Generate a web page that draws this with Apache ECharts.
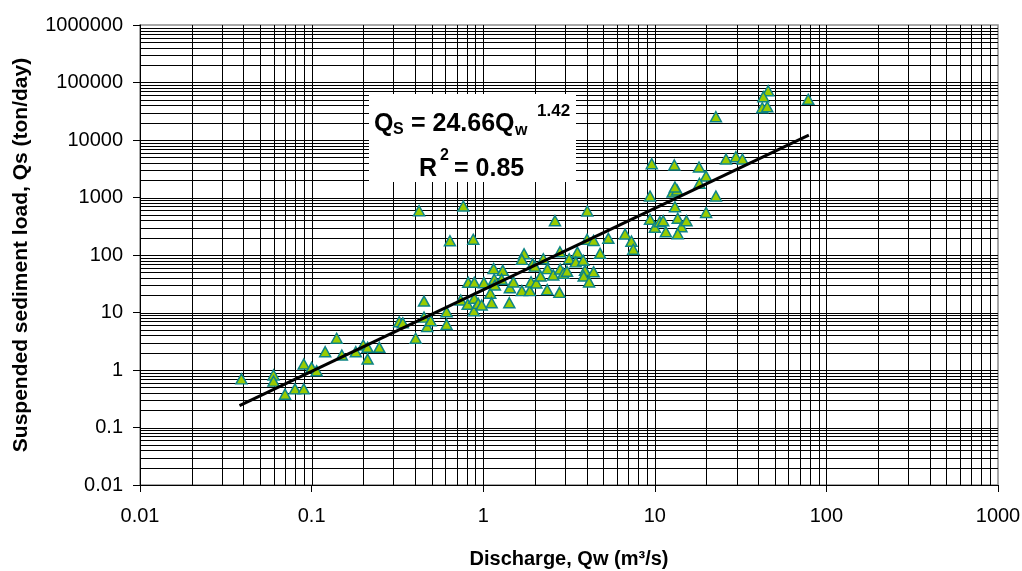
<!DOCTYPE html>
<html><head><meta charset="utf-8">
<script src="https://cdn.jsdelivr.net/npm/echarts@6/dist/echarts.min.js"></script>
<style>html,body{margin:0;padding:0;background:#fff}#c{width:1022px;height:571px}</style>
</head><body><div id="c"></div>
<script>
// ---- data ----
const discharge = [0.039,0.060,0.060,0.070,0.080,0.090,0.090,0.100,0.107,0.120,0.140,0.150,0.181,0.200,0.212,0.212,0.248,0.324,0.340,0.404,0.452,0.452,0.472,0.494,0.612,0.612,0.740,0.818,0.887,0.812,0.887,0.883,0.935,0.423,0.766,0.640,0.875,1.01,1.10,1.12,0.98,1.15,1.30,1.16,1.28,1.17,1.43,1.42,1.50,1.68,1.87,1.90,2.04,2.36,2.78,1.73,1.68,1.94,2.00,2.24,2.16,2.37,2.56,2.80,2.81,2.93,3.08,3.17,3.54,3.46,3.83,3.92,3.85,4.14,4.40,4.03,4.40,4.80,5.36,6.71,2.62,4.04,7.31,7.49,9.38,10.0,10.7,11.2,11.6,13.6,14.3,15.3,13.6,9.38,13.1,12.7,13.5,13.1,9.6,13.0,18.1,19.9,18.2,22.7,19.9,26.0,29.7,32.4,22.7,45.8,42.9,42.3,45.2,78.4];
const sediment = [0.70,0.82,0.64,0.38,0.47,0.47,1.27,1.11,0.97,2.08,3.56,1.82,2.08,2.72,2.48,1.55,2.48,6.9,6.6,3.56,15.8,8.3,5.7,7.2,10.3,6.2,16.5,33.5,33.5,13.9,17.7,10.7,14.4,589,711,177,188,33,21.6,14.8,13.5,58,54,38,38,30,27,14.8,34,24,24,34,32.6,25,22.4,105,84,70,64,86,43,58,45,114,57,48,52,86,112,76,81,54,43,34,51,188,179,107,195,232,395,582,174,126,418,303,380,395,254,435,310,395,234,1060,690,1250,1350,1520,3870,3680,3390,2370,1770,1060,548,4670,5120,4670,25400,72000,56600,36400,37900,51000];
const trendDischarge = [0.038, 79];
const trendSediment = [0.24, 12200];
const xTickLabels = ['0.01','0.1','1','10','100','1000'];
const yTickLabels = ['0.01','0.1','1','10','100','1000','10000','100000','1000000'];
const gridMultipliers = [1,2,3,4,5,6,7,8,9];

// ---- build ----
const points = discharge.map((d, i) => [d, sediment[i]]);
const trend = trendDischarge.map((d, i) => [d, trendSediment[i]]);
function gridValues(labels) {
  const out = [];
  const decades = labels.map(Number);
  for (let i = 0; i < decades.length - 1; i++) {
    gridMultipliers.forEach(m => { if (!(i === 0 && m === 1)) out.push(decades[i] * m); });
  }
  return out;
}
const gridX = gridValues(xTickLabels).map(v => [v, 1]);
const gridY = gridValues(yTickLabels).map(v => [1, v]);
const FONT = '"Liberation Sans", Arial, sans-serif';

const chart = echarts.init(document.getElementById('c'), null, {renderer: 'canvas'});
chart.setOption({
  animation: false,
  backgroundColor: '#fff',
  grid: {left: 140, right: 24, top: 25, bottom: 86, show: true, backgroundColor: '#fff',
         borderColor: '#8c8c8c', borderWidth: 1.5, containLabel: false, outerBoundsMode: 'none'},
  xAxis: {
    type: 'log', logBase: 10, min: 0.01, max: 1000,
    name: 'Discharge, Qw (m³/s)', nameLocation: 'middle', nameGap: 64,
    nameTextStyle: {fontFamily: FONT, fontWeight: 'bold', fontSize: 20, color: '#000'},
    axisLine: {show: true, onZero: false, lineStyle: {color: '#000', width: 1}},
    axisTick: {show: true, inside: false, length: 7, lineStyle: {color: '#000'}},
    axisLabel: {show: true, margin: 21, fontFamily: FONT, fontSize: 20, color: '#000',
      formatter: v => xTickLabels[Math.round(Math.log10(v)) + 2]},
    splitLine: {show: false}, minorTick: {show: false}, minorSplitLine: {show: false}
  },
  yAxis: {
    type: 'log', logBase: 10, min: 0.01, max: 1000000,
    name: 'Suspended sediment load, Qs (ton/day)', nameLocation: 'middle', nameGap: 108,
    nameTextStyle: {fontFamily: FONT, fontWeight: 'bold', fontSize: 21, color: '#000'},
    axisLine: {show: true, onZero: false, lineStyle: {color: '#000', width: 1}},
    axisTick: {show: true, inside: false, length: 7, lineStyle: {color: '#000'}},
    axisLabel: {show: true, margin: 17, fontFamily: FONT, fontSize: 20, color: '#000',
      formatter: v => yTickLabels[Math.round(Math.log10(v)) + 2]},
    splitLine: {show: false}, minorTick: {show: false}, minorSplitLine: {show: false}
  },
  series: [
    {
      type: 'custom', name: 'vgrid', silent: true, z: 1, data: gridX,
      renderItem: (params, api) => {
        const cs = params.coordSys;
        const x = Math.round(api.coord([api.value(0), api.value(1)])[0]) + 0.5;
        return {type: 'line', shape: {x1: x, y1: cs.y, x2: x, y2: cs.y + cs.height},
                style: {stroke: '#000', lineWidth: 1}};
      }
    },
    {
      type: 'custom', name: 'hgrid', silent: true, z: 1, data: gridY,
      renderItem: (params, api) => {
        const cs = params.coordSys;
        const y = Math.round(api.coord([api.value(0), api.value(1)])[1]) + 0.5;
        return {type: 'line', shape: {x1: cs.x, y1: y, x2: cs.x + cs.width, y2: y},
                style: {stroke: '#000', lineWidth: 1}};
      }
    },
    {
      type: 'scatter', name: 'Observed', z: 3, data: points,
      symbol: 'triangle', symbolSize: [11, 10],
      itemStyle: {color: '#99cc00', borderColor: '#0e8585', borderWidth: 1.5, opacity: 1}
    },
    {
      type: 'line', name: 'Fit', z: 4, data: trend, symbol: 'none',
      lineStyle: {color: '#000', width: 3}
    }
  ],
  graphic: [
    {type: 'rect', z: 100, shape: {x: 369, y: 94, width: 207, height: 88}, style: {fill: '#fff'}},
    {type: 'text', z: 101, x: 374, y: 124, style: {text: 'Q', font: 'bold 25px ' + FONT, fill: '#000', verticalAlign: 'middle', align: 'left'}},
    {type: 'text', z: 101, x: 393, y: 130, style: {text: 'S', font: 'bold 16px ' + FONT, fill: '#000', verticalAlign: 'middle', align: 'left'}},
    {type: 'text', z: 101, x: 411, y: 124, style: {text: '= 24.66', font: 'bold 25px ' + FONT, fill: '#000', verticalAlign: 'middle', align: 'left'}},
    {type: 'text', z: 101, x: 495, y: 124, style: {text: 'Q', font: 'bold 25px ' + FONT, fill: '#000', verticalAlign: 'middle', align: 'left'}},
    {type: 'text', z: 101, x: 515, y: 131, style: {text: 'w', font: 'bold 16px ' + FONT, fill: '#000', verticalAlign: 'middle', align: 'left'}},
    {type: 'text', z: 101, x: 537, y: 111, style: {text: '1.42', font: 'bold 17px ' + FONT, fill: '#000', verticalAlign: 'middle', align: 'left'}},
    {type: 'text', z: 101, x: 419, y: 169, style: {text: 'R', font: 'bold 25px ' + FONT, fill: '#000', verticalAlign: 'middle', align: 'left'}},
    {type: 'text', z: 101, x: 440, y: 156, style: {text: '2', font: 'bold 16px ' + FONT, fill: '#000', verticalAlign: 'middle', align: 'left'}},
    {type: 'text', z: 101, x: 454, y: 169, style: {text: '= 0.85', font: 'bold 25px ' + FONT, fill: '#000', verticalAlign: 'middle', align: 'left'}}
  ]
});
</script>
</body></html>
